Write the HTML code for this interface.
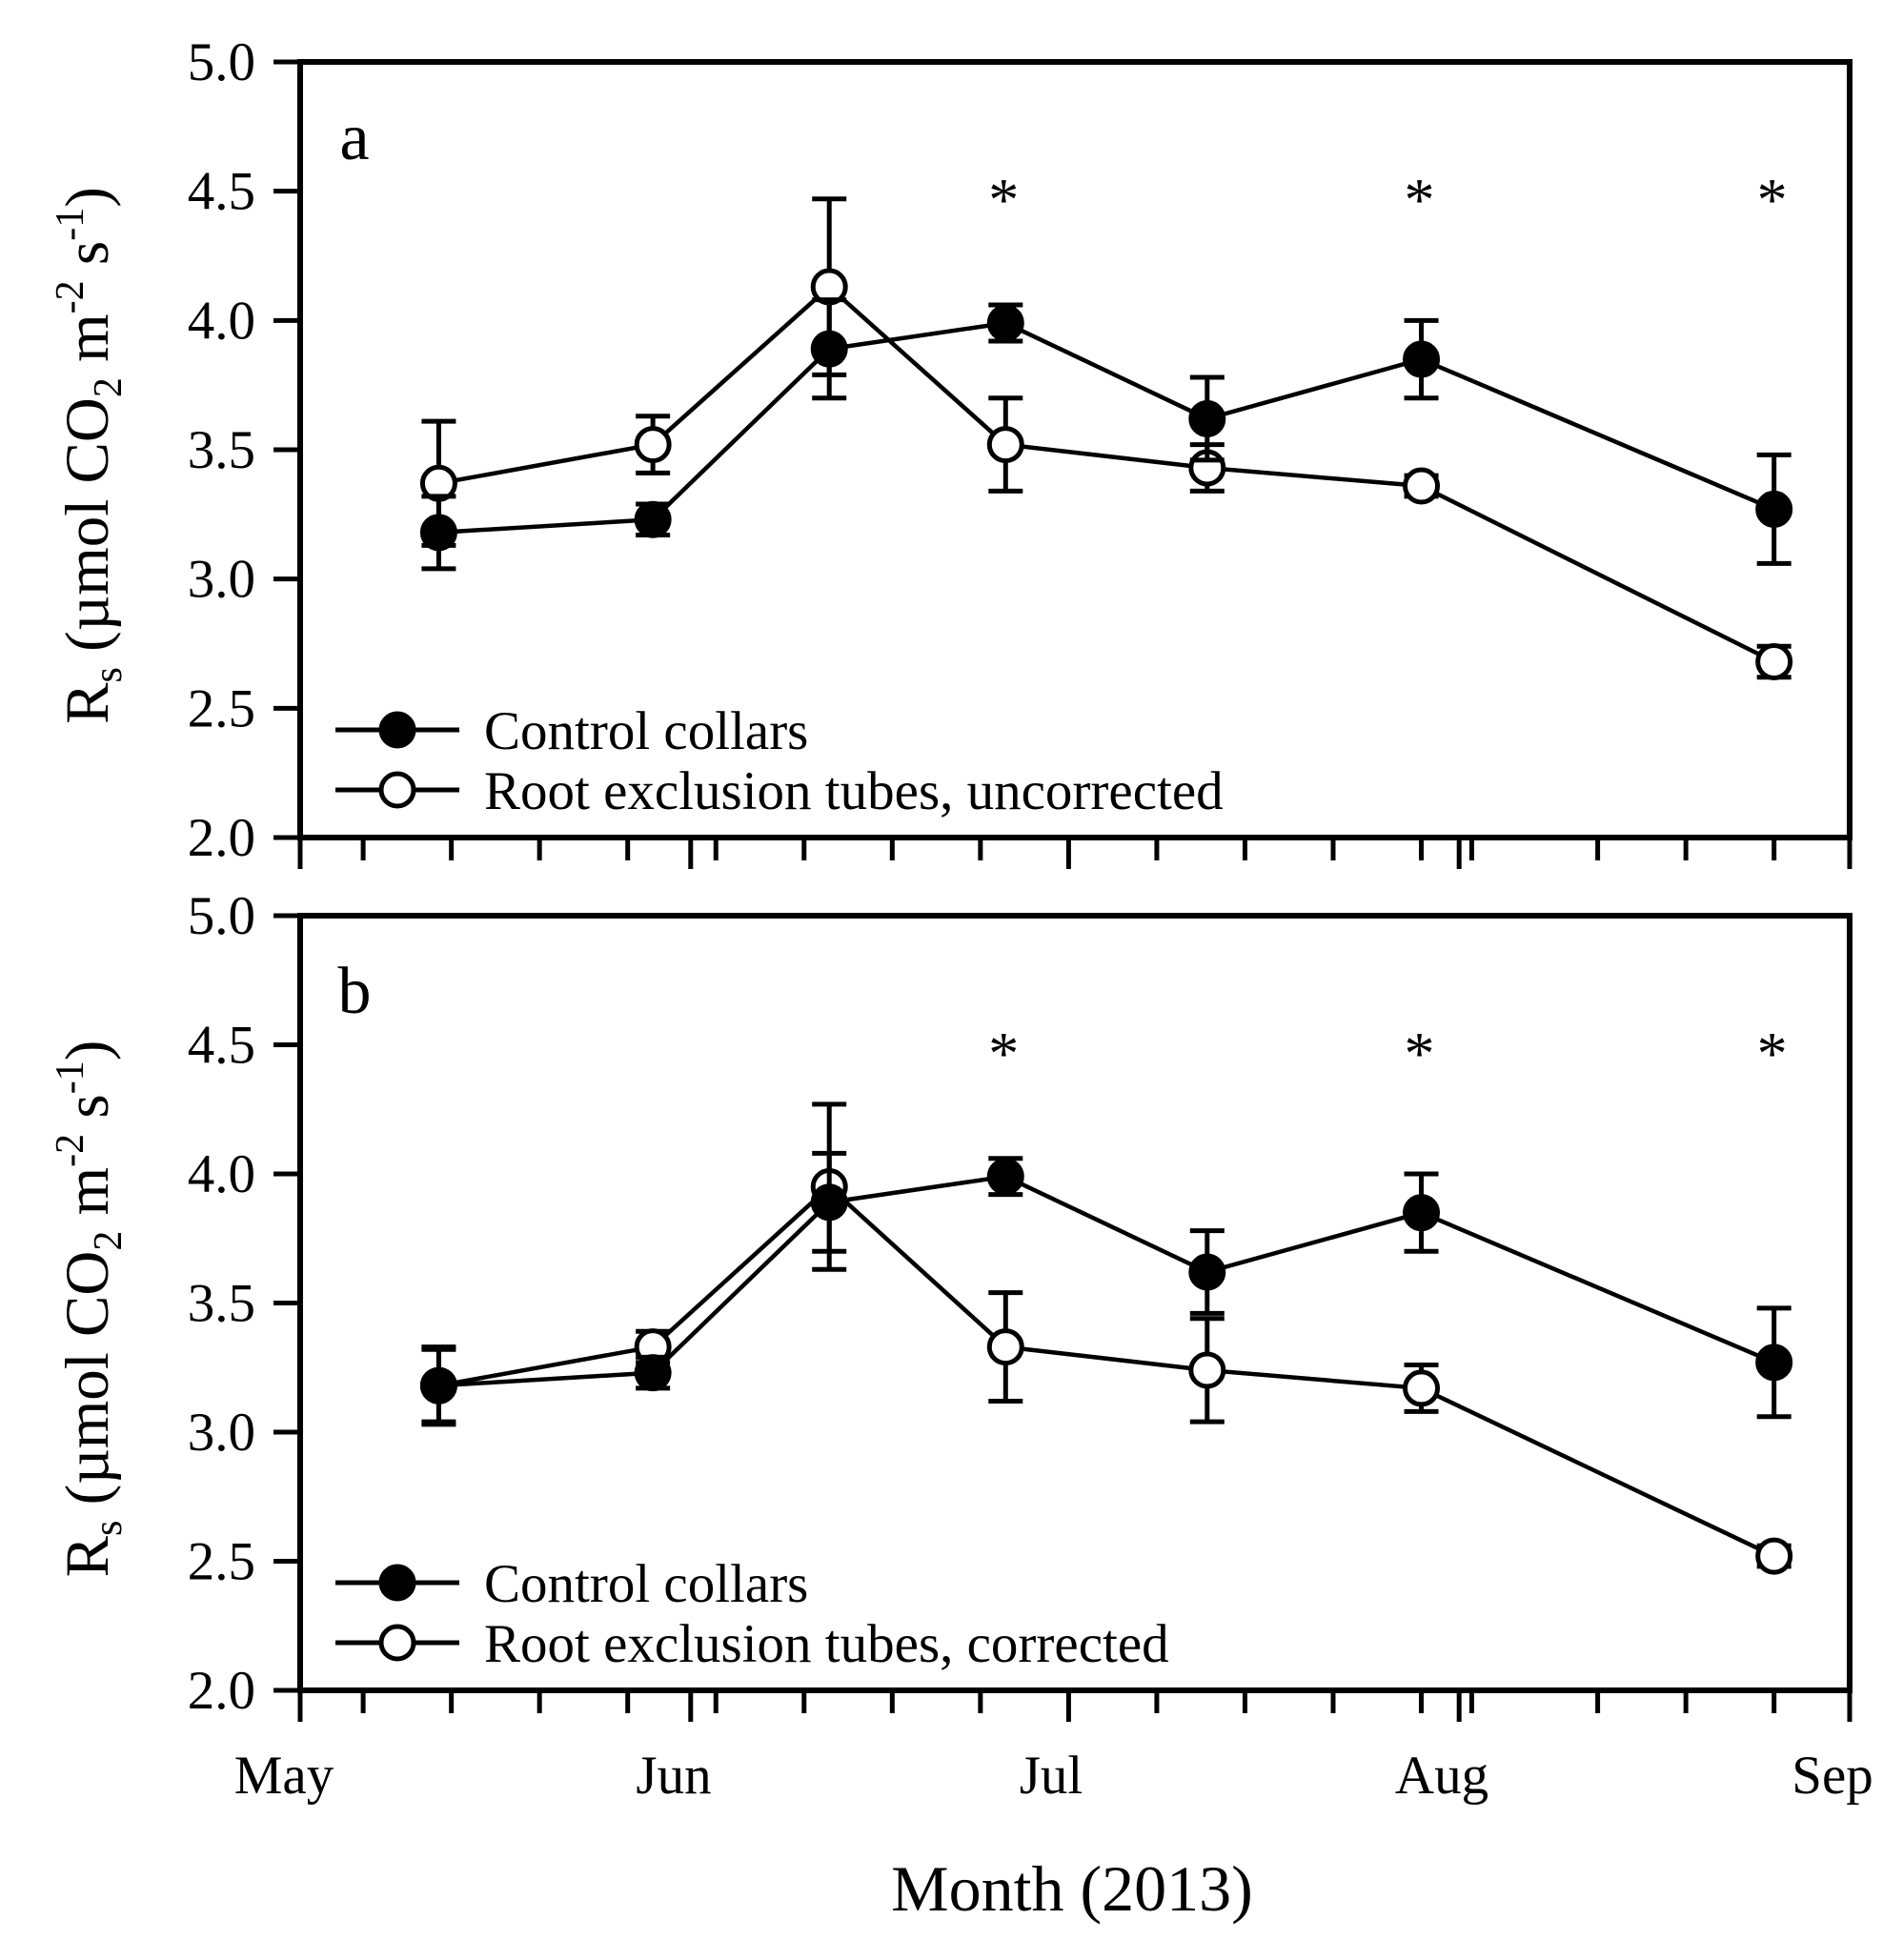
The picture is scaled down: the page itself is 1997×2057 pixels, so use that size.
<!DOCTYPE html>
<html><head><meta charset="utf-8">
<style>
html,body{margin:0;padding:0;background:#fff;}
svg{display:block;font-family:"Liberation Serif",serif;}
</style></head>
<body>
<svg id="chart" width="1997" height="2057" viewBox="0 0 1997 2057" xmlns="http://www.w3.org/2000/svg">
<text x="1125" y="2005" font-size="68" text-anchor="middle">Month (2013)</text>
</svg>
<script>
const days = [11, 28, 42, 56, 72, 89, 117];
const controlMean = [3.18, 3.23, 3.89, 3.99, 3.62, 3.85, 3.27];
const controlErr = [0.14, 0.06, 0.19, 0.07, 0.16, 0.15, 0.21];
const rootUncMean = [3.37, 3.52, 4.13, 3.52, 3.43, 3.36, 2.68];
const rootUncErr = [0.24, 0.11, 0.34, 0.18, 0.09, 0.04, 0.06];
const rootCorMean = [3.18, 3.33, 3.95, 3.33, 3.24, 3.17, 2.52];
const rootCorErr = [0.15, 0.06, 0.32, 0.21, 0.20, 0.09, 0.04];
const sigDays = [56, 89, 117];
const yTicks = [2.0, 2.5, 3.0, 3.5, 4.0, 4.5, 5.0];
const monthLabels = ["May", "Jun", "Jul", "Aug", "Sep"];
const monthDays = [0, 31, 61, 92, 123];
const minorDays = [5, 12, 19, 26, 33, 40, 47, 54, 68, 75, 82, 89, 93, 103, 110, 117];

const NS = "http://www.w3.org/2000/svg";
const svg = document.getElementById("chart");
const X0 = 315, X1 = 1941;
function xs(d){ return X0 + d * (X1 - X0) / 123; }
function mk(tag, attrs, parent){
  const e = document.createElementNS(NS, tag);
  for (const k in attrs) e.setAttribute(k, attrs[k]);
  (parent || svg).appendChild(e);
  return e;
}
function drawPanel(top, bottom, letter, rootMean, rootErr, rootLabel, key){
  const g = mk("g", {});
  
  
  const ys = v => bottom - (v - 2) * (bottom - top) / 3;
  const frame = mk("rect", {x: X0, y: top, width: X1 - X0, height: bottom - top, fill: "none", stroke: "#000", "stroke-width": 6}, g);
  
  
  yTicks.forEach(v => {
    const t = mk("line", {x1: X0 - 28, x2: X0, y1: ys(v), y2: ys(v), stroke: "#000", "stroke-width": 5}, g);
    
    
    const l = mk("text", {x: 268, y: ys(v) + 19, "font-size": 57, "text-anchor": "end"}, g);
    l.textContent = v.toFixed(1);
    
    
  });
  monthDays.forEach(d => {
    const t = mk("line", {x1: xs(d), x2: xs(d), y1: bottom, y2: bottom + 33, stroke: "#000", "stroke-width": 5}, g);
    
    
  });
  minorDays.forEach(d => {
    const t = mk("line", {x1: xs(d), x2: xs(d), y1: bottom, y2: bottom + 24, stroke: "#000", "stroke-width": 5}, g);
    
    
  });
  const lt = mk("text", {x: 372, y: top + 102, "font-size": 70, "text-anchor": "middle"}, g);
  lt.textContent = letter;
  
  
  const cy = (top + bottom) / 2 + 6;
  const yt = mk("text", {x: 0, y: 0, "font-size": 65, "text-anchor": "middle", transform: `translate(113,${cy}) rotate(-90)`}, g);
  
  
  yt.innerHTML = 'R<tspan font-size="42" dy="14">s</tspan><tspan dy="-14"> (µmol CO</tspan><tspan font-size="42" dy="14">2</tspan><tspan dy="-14"> m</tspan><tspan font-size="42" dy="-26">-2</tspan><tspan dy="26"> s</tspan><tspan font-size="42" dy="-26">-1</tspan><tspan dy="26">)</tspan>';
  sigDays.forEach(d => {
    const s = mk("text", {x: xs(d) - 2, y: top + 166, "font-size": 64, "text-anchor": "middle"}, g);
    s.textContent = "*";
    
    
  });
  function series(mean, err, fill, name){
    const sg = mk("g", {}, g);
    
    
    mean.forEach((m, i) => {
      const x = xs(days[i]);
      [m + err[i], m - err[i]].forEach(e => {
        const b = mk("line", {x1: x, x2: x, y1: ys(m), y2: ys(e), stroke: "#000", "stroke-width": 5}, sg);
        
        
        const c = mk("line", {x1: x - 18, x2: x + 18, y1: ys(e), y2: ys(e), stroke: "#000", "stroke-width": 5}, sg);
        
        
      });
    });
    const pts = mean.map((m, i) => xs(days[i]) + "," + ys(m)).join(" ");
    const pl = mk("polyline", {points: pts, fill: "none", stroke: "#000", "stroke-width": 4.5}, sg);
    
    
    mean.forEach((m, i) => {
      const c = mk("circle", {cx: xs(days[i]), cy: ys(m), r: 17, fill: fill, stroke: "#000", "stroke-width": 5}, sg);
      
      
    });
  }
  series(rootMean, rootErr, "#fff", "root-exclusion-series");
  series(controlMean, controlErr, "#000", "control-series");
  const leg = [["Control collars", "#000"], [rootLabel, "#fff"]];
  leg.forEach((e, i) => {
    const y = bottom - 113 + i * 63;
    const lg = mk("g", {}, g);
    
    
    mk("line", {x1: 352, x2: 482, y1: y, y2: y, stroke: "#000", "stroke-width": 5}, lg);
    mk("circle", {cx: 417, cy: y, r: 17, fill: e[1], stroke: "#000", "stroke-width": 5}, lg);
    const t = mk("text", {x: 508, y: y + 20, "font-size": 57}, lg);
    t.textContent = e[0];
  });
}
drawPanel(65, 879, "a", rootUncMean, rootUncErr, "Root exclusion tubes, uncorrected", "a");
drawPanel(961, 1774, "b", rootCorMean, rootCorErr, "Root exclusion tubes, corrected", "b");
const mxPos = [298, 707, 1103, 1513, 1923];
monthLabels.forEach((m, i) => {
  const t = mk("text", {x: mxPos[i], y: 1882, "font-size": 57, "text-anchor": "middle"});
  t.textContent = m;
  
  
});
</script>
</body></html>
